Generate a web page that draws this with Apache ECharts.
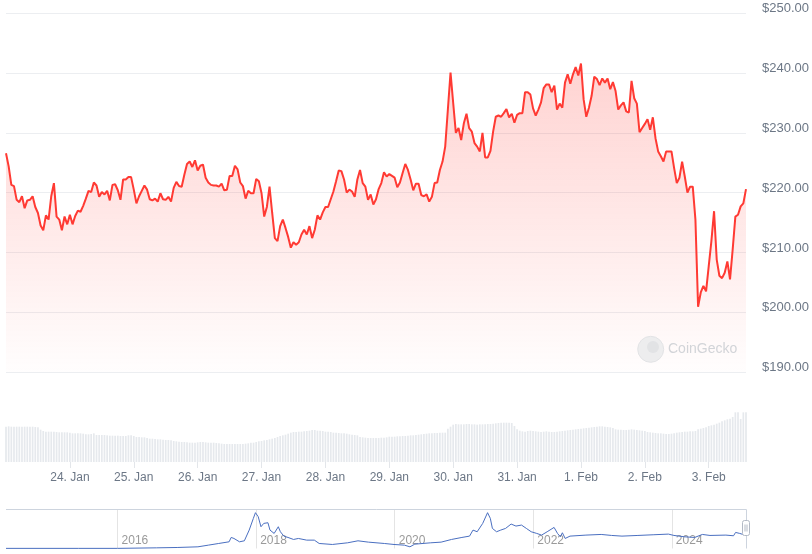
<!DOCTYPE html>
<html><head><meta charset="utf-8">
<script src="https://cdn.jsdelivr.net/npm/echarts/dist/echarts.min.js"></script>
<style>html,body{margin:0;padding:0;background:#fff}#c{width:812px;height:554px}</style>
</head><body><div id="c"></div><script>
// hourly prices starting 23 Jan 00:00
const prices = [
226.6,224.4,221.3,221.1,218.8,218.4,219.4,217.4,218.7,218.8,219.4,217.6,216.6,214.5,213.7,216.2,215.5,219.4,221.6,216.0,
215.5,213.7,216.0,214.7,216.3,214.7,216.1,217.0,216.8,217.8,219.0,220.3,220.1,221.7,221.2,219.3,220.1,219.7,220.3,218.7,
221.3,221.4,220.4,218.8,222.2,222.2,222.6,222.6,220.5,218.2,219.4,220.3,221.2,220.5,218.9,218.7,219.0,218.5,219.9,218.9,
218.8,219.3,218.5,220.8,221.8,221.1,221.0,223.0,224.8,225.2,224.3,225.4,223.7,224.5,224.7,222.5,221.7,221.3,221.2,221.2,
221.0,221.5,220.4,220.5,222.8,222.8,224.5,223.9,221.7,221.1,219.0,220.3,219.9,219.9,222.3,221.9,219.9,216.0,217.6,221.0,
216.6,212.4,211.9,214.4,215.5,214.1,212.6,210.8,211.7,211.3,211.7,213.0,213.8,213.0,214.4,212.4,213.8,216.2,215.5,216.7,
217.6,217.6,218.9,220.2,221.9,223.7,223.6,222.2,220.0,220.5,220.2,219.3,222.2,223.8,221.6,221.0,218.8,219.7,218.0,218.9,
220.6,221.6,223.4,222.7,223.1,222.8,222.5,220.9,221.7,223.3,224.8,223.8,222.2,220.4,221.5,221.5,219.6,219.4,219.7,218.5,
219.3,221.6,221.7,223.8,225.2,227.7,233.9,240.1,235.0,230.0,230.8,228.8,231.6,233.2,230.8,230.2,228.3,227.7,226.9,230.0,
225.9,225.9,227.0,230.2,232.7,232.9,232.7,233.3,234.0,232.6,233.2,231.7,233.0,233.3,233.3,236.8,236.8,236.4,
234.1,232.9,233.9,235.1,237.5,238.1,238.1,236.8,237.9,233.9,234.9,234.2,238.4,239.8,238.2,239.8,241.0,239.6,241.6,235.6,
232.7,234.2,236.2,239.4,239.0,238.0,239.1,238.4,239.1,237.3,238.5,237.0,233.9,234.6,235.1,233.6,233.4,238.7,235.8,234.9,
230.1,230.8,231.5,232.3,230.5,232.6,229.1,226.9,226.1,225.2,226.9,226.9,226.9,224.1,221.6,222.5,225.2,222.7,220.0,221.0,
221.0,215.5,200.9,203.3,204.4,203.5,207.7,211.9,216.9,208.8,206.1,205.7,206.6,208.5,205.5,210.5,216.0,216.3,217.7,218.2,
220.6
];
// hourly volume (relative units)
const volumes = [
106,107,106,106,106,106,106,106,106,106,106,105,104,97,93,
91,91,91,91,90,89,89,89,89,88,86,86,86,86,85,83,83,84,
86,81,81,81,81,80,79,79,79,79,78,78,78,80,80,78,
75,75,74,74,72,70,70,69,68,68,67,66,66,65,63,62,61,60,60,59,
58,58,58,59,60,60,59,58,58,58,57,56,
55,54,54,54,54,54,54,54,54,55,56,58,58,60,62,63,65,66,68,
70,72,75,78,80,82,85,88,90,90,91,91,92,93,94,96,96,94,94,93,91,91,90,
88,88,87,86,86,85,83,82,81,80,75,74,73,72,72,72,72,72,73,73,74,
76,76,76,77,77,78,78,79,80,80,81,82,83,84,85,86,86,87,87,88,88,88,
100,106,112,114,113,113,113,114,114,113,113,112,113,113,113,114,114,115,116,117,
118,118,118,118,117,108,98,94,92,91,93,94,93,92,91,90,91,92,91,90,
90,91,92,93,94,95,96,97,98,99,100,101,102,103,104,105,106,107,107,106,105,104,102,
98,97,97,96,96,97,98,97,96,95,94,93,90,89,88,87,86,86,85,84,84,85,86,
88,89,90,91,91,92,92,93,98,100,102,104,108,110,112,115,118,122,125,128,130,135,
149,149,129,149,149
];
const dayHours = [24,48,72,96,120,144,168,192,216,240,264];
const dayLabels = ['24. Jan','25. Jan','26. Jan','27. Jan','28. Jan','29. Jan','30. Jan','31. Jan','1. Feb','2. Feb','3. Feb'];
// navigator (full history)
const navYears = [2014.39,2015.44,2016.0,2016.56,2016.86,2017.16,2017.31,2017.46,2017.61,2017.64,2017.68,2017.76,2017.83,2017.90,2017.96,2017.99,
2018.03,2018.07,2018.11,2018.17,2018.20,2018.26,2018.32,2018.35,2018.40,2018.46,2018.54,2018.61,2018.73,2018.84,2018.91,2019.10,2019.32,2019.47,2019.62,2019.85,2019.99,
2020.14,2020.22,2020.29,2020.52,2020.67,2020.82,2020.97,2021.08,2021.13,2021.19,2021.27,2021.34,2021.38,2021.41,2021.47,2021.53,2021.60,2021.68,2021.75,2021.83,2021.90,2021.97,
2022.05,2022.12,2022.20,2022.30,2022.35,2022.39,2022.42,2022.46,2022.53,2022.76,2022.98,2023.13,2023.28,2023.51,2023.73,2023.95,
2024.03,2024.18,2024.33,2024.44,2024.55,2024.78,2024.89,2024.92,2024.98,2025.04];
const navValues = [2,2,2,10,15,25,50,75,100,165,150,100,115,275,450,535,
475,325,375,385,275,225,325,250,185,165,135,150,125,125,75,60,85,115,95,75,60,
50,25,65,85,95,135,165,185,275,250,375,535,450,300,250,275,300,365,335,350,300,250,
225,200,250,315,225,175,235,150,185,200,210,195,185,195,205,215,
195,175,165,210,195,200,190,240,225,205];
const navYearTicks = [2016,2018,2020,2022,2024];

const chart = echarts.init(document.getElementById('c'), null, {renderer:'canvas'});
const gray = '#6c7786';
chart.setOption({
  animation:false,
  textStyle:{fontFamily:'Liberation Sans, Arial, sans-serif'},
  grid:[
    {left:6, top:13.3, width:740, height:358.7},
    {left:6, top:400, width:740, height:62},
    {left:6, top:510, width:740, height:38.5}
  ],
  xAxis:[
    {gridIndex:0, type:'value', min:0, max:prices.length-1, show:false},
    {gridIndex:1, type:'value', min:0, max:prices.length-1,
      axisLine:{show:false},
      axisTick:{show:true, customValues:dayHours, length:6, lineStyle:{color:'#e3e6ea'}},
      axisLabel:{customValues:dayHours, formatter:v=>dayLabels[dayHours.indexOf(v)], color:gray, fontSize:12, margin:10},
      splitLine:{show:false}},
    {gridIndex:2, type:'value', min:2014.39, max:2025.07,
      axisLine:{show:false},
      axisTick:{show:false, customValues:navYearTicks},
      axisLabel:{customValues:navYearTicks, inside:true, align:'left', padding:[0,0,0,4], margin:2, color:'#9a9a9a', fontSize:12, formatter:v=>String(v)},
      splitLine:{show:true, lineStyle:{color:'#e4e4e4'}}}
  ],
  yAxis:[
    {gridIndex:0, type:'value', position:'right', min:190, max:250, interval:10,
      axisLine:{show:false}, axisTick:{show:false},
      splitLine:{lineStyle:{color:'#eceef1'}},
      axisLabel:{formatter:v=>'$'+v.toFixed(2), color:gray, fontSize:13, margin:16, verticalAlign:'bottom', lineHeight:9}},
    {gridIndex:1, type:'value', min:0, max:186, show:false},
    {gridIndex:2, type:'value', min:0, max:575, show:false}
  ],
  series:[
    {type:'line', xAxisIndex:0, yAxisIndex:0, data:prices.map((p,i)=>[i,p]), showSymbol:false, symbol:'none',
      lineStyle:{color:'#ff3a33', width:2}, itemStyle:{color:'#ff3a33'},
      areaStyle:{color:new echarts.graphic.LinearGradient(0,0,0,1,[{offset:0,color:'rgba(255,58,51,0.32)'},{offset:1,color:'rgba(255,58,51,0.01)'}])}},
    {type:'bar', xAxisIndex:1, yAxisIndex:1, data:volumes.map((v,i)=>[i,v]), barWidth:1.7, itemStyle:{color:'#e6e9ed'}},
    {type:'line', xAxisIndex:2, yAxisIndex:2, data:navYears.map((y,i)=>[y,navValues[i]]), showSymbol:false, symbol:'none',
      lineStyle:{color:'#4a6fc0', width:1}}
  ],
  graphic:[
    {type:'polyline', shape:{points:[[6,509.5],[746.5,509.5],[746.5,548.5]]}, style:{stroke:'#cdd4de', lineWidth:1, fill:null}, z:10},
    {type:'rect', shape:{x:742.5,y:520.5,width:7,height:15,r:2}, style:{fill:'#ffffff', stroke:'#b3bac5', lineWidth:1}, z:11},
    {type:'line', shape:{x1:745,y1:524.5,x2:745,y2:531.5}, style:{stroke:'#b3bac5', lineWidth:1}, z:12},
    {type:'line', shape:{x1:747,y1:524.5,x2:747,y2:531.5}, style:{stroke:'#b3bac5', lineWidth:1}, z:12},
    {type:'circle', shape:{cx:650.7, cy:349.3, r:13}, style:{fill:'#ededee', stroke:'#e2e3e5', lineWidth:1}, z:5},
    {type:'circle', shape:{cx:653, cy:347, r:6}, style:{fill:'#e2e3e5'}, z:6},
    {type:'text', style:{x:668, y:349.3, text:'CoinGecko', fill:'#d2d4d8', font:'14px Liberation Sans, Arial, sans-serif', textVerticalAlign:'middle'}, z:5}
  ]
});
</script></body></html>
